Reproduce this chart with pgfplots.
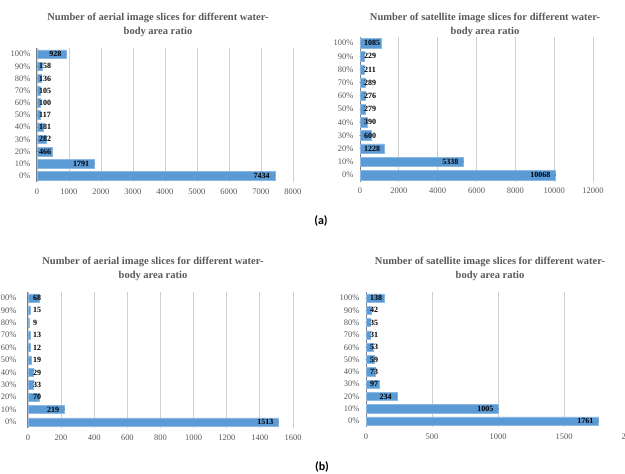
\documentclass[border=0pt]{standalone}
\usepackage{pgfplots}
\pgfplotsset{compat=1.18}
\usepackage{pgfplotstable}
\usepackage{fontspec}
\setmainfont{Liberation Serif}
\newfontfamily\calfont{Carlito}
\definecolor{barblue}{HTML}{5B9BD5}
\definecolor{baredge}{HTML}{8DB8E2}
\definecolor{txtgray}{HTML}{595959}
\definecolor{gridgray}{HTML}{D0D0D0}
\definecolor{axgray}{HTML}{7F7F7F}

% columns: category index, value, label position (value for labels inside the bar end, 0 for labels at the axis)
% aerial (a)
\pgfplotstableread{
cat val lx
0 7434 7434
1 1791 1791
2 466 0
3 282 0
4 181 0
5 117 0
6 100 0
7 105 0
8 136 0
9 158 0
10 928 928
}\tAA
% satellite (a)
\pgfplotstableread{
cat val lx
0 10068 10068
1 5338 5338
2 1228 0
3 600 0
4 390 0
5 279 0
6 276 0
7 289 0
8 211 0
9 229 0
10 1085 0
}\tAS
% aerial (b)
\pgfplotstableread{
cat val lx
0 1513 1513
1 219 219
2 70 0
3 33 0
4 29 0
5 19 0
6 12 0
7 13 0
8 9 0
9 15 0
10 68 0
}\tBA
% satellite (b)
\pgfplotstableread{
cat val lx
0 1761 1761
1 1005 1005
2 234 234
3 97 0
4 73 0
5 59 0
6 53 0
7 31 0
8 35 0
9 42 0
10 138 0
}\tBS

\pgfplotsset{
  panel/.style={
    scale only axis, anchor=south west,
    ymin=-0.5, ymax=10.5, xmin=0,
    ytick={0,...,10},
    yticklabels={0\%,10\%,20\%,30\%,40\%,50\%,60\%,70\%,80\%,90\%,100\%},
    axis y line*=left, axis x line*=bottom,
    x axis line style={draw=none},
    y axis line style={draw=axgray, line width=1pt},
    major tick length=0pt,
    xmajorgrids, grid style={gridgray, line width=0.9pt},
    tick label style={font=\fontsize{8.5}{10}\selectfont, text=txtgray},
    xticklabel style={yshift=-3pt},
    yticklabel style={xshift=-3pt},
    scaled x ticks=false,
    /pgf/number format/assume math mode=true,
    /pgf/number format/set thousands separator={},
    clip=false,
  },
  barplot/.style={xbar, bar width=#1, fill=barblue, draw=baredge, line width=0.5pt},
  labbase/.style={only marks, mark=*, mark size=0.01pt, mark options={draw=none, fill=none},
    point meta=explicit symbolic, nodes near coords},
  labE/.style={labbase, restrict x to domain=1:100000,
    nodes near coords style={anchor=east, xshift=#1, inner sep=0pt,
      font=\fontsize{8}{9}\selectfont\bfseries, text=black}},
  labW/.style={labbase, restrict x to domain=-1:0.5,
    nodes near coords style={anchor=west, xshift=#1, inner sep=0pt,
      font=\fontsize{8}{9}\selectfont\bfseries, text=black}},
}

\begin{document}
\begin{tikzpicture}
\useasboundingbox (0pt,0pt) rectangle (625pt,474pt);

% titles
\node[font=\fontsize{10.5}{14}\selectfont\bfseries, text=txtgray, align=center]
  at (158pt,449pt) {Number of aerial image slices for different water-\\body area ratio};
\node[font=\fontsize{10.5}{14}\selectfont\bfseries, text=txtgray, align=center]
  at (485pt,449pt) {Number of satellite image slices for different water-\\body area ratio};
\node[font=\fontsize{10.5}{14}\selectfont\bfseries, text=txtgray, align=center]
  at (153pt,205pt) {Number of aerial image slices for different water-\\body area ratio};
\node[font=\fontsize{10.5}{14}\selectfont\bfseries, text=txtgray, align=center]
  at (490pt,205pt) {Number of satellite image slices for different water-\\body area ratio};

% (a) aerial
\begin{axis}[panel, at={(37pt,292pt)}, width=256pt, height=134pt,
  xmax=8000, xtick={0,1000,...,8000}]
\addplot[barplot=8.5pt] table[x=val, y=cat]{\tAA};
\addplot[labE=-5pt] table[x=lx, y=cat, meta=val]{\tAA};
\addplot[labW=2pt] table[x=lx, y=cat, meta=val]{\tAA};
\end{axis}

% (a) satellite
\begin{axis}[panel, at={(360pt,292.4pt)}, width=233pt, height=145pt,
  xmax=12000, xtick={0,2000,...,12000}]
\addplot[barplot=9.5pt] table[x=val, y=cat]{\tAS};
\addplot[labE=-5pt] table[x=lx, y=cat, meta=val]{\tAS};
\addplot[labW=4pt] table[x=lx, y=cat, meta=val]{\tAS};
\end{axis}

% (b) aerial
\begin{axis}[panel, at={(28pt,45.8pt)}, width=265pt, height=136.4pt,
  xmax=1600, xtick={0,200,...,1600}, yticklabel style={xshift=-5pt}]
\addplot[barplot=8.2pt] table[x=val, y=cat]{\tBA};
\addplot[labE=-5pt] table[x=lx, y=cat, meta=val]{\tBA};
\addplot[labW=5pt] table[x=lx, y=cat, meta=val]{\tBA};
\end{axis}

% (b) satellite
\begin{axis}[panel, at={(366pt,46.8pt)}, width=264pt, height=135.3pt,
  xmax=2000, xtick={0,500,...,2000}]
\addplot[barplot=8.2pt] table[x=val, y=cat]{\tBS};
\addplot[labE=-5pt] table[x=lx, y=cat, meta=val]{\tBS};
\addplot[labW=4pt] table[x=lx, y=cat, meta=val]{\tBS};
\end{axis}

\node[font=\calfont\bfseries\fontsize{12}{14}\selectfont] at (321pt,253pt) {(a)};
\node[font=\calfont\bfseries\fontsize{12}{14}\selectfont] at (322pt,7pt) {(b)};
\end{tikzpicture}
\end{document}
